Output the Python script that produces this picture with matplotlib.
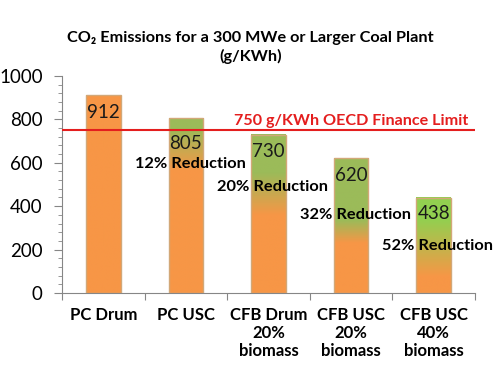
import matplotlib
matplotlib.use("Agg")
import matplotlib.pyplot as plt
import matplotlib.colors as mcolors
import numpy as np
from matplotlib.ticker import MultipleLocator

plt.rcParams['font.family'] = ['Lato', 'DejaVu Sans']

# data
categories = ['PC Drum', 'PC USC', 'CFB Drum\n20%\nbiomass', 'CFB USC\n20%\nbiomass', 'CFB USC\n40%\nbiomass']
emissions = [912, 805, 730, 620, 438]
reductions = ['', '12% Reduction', '20% Reduction', '32% Reduction', '52% Reduction']
oecd_limit = 750

# style: gradient stops (fraction of bar height) where orange ends / green starts
fade_lo = [1.01, 0.70, 0.49, 0.37, 0.17]
fade_hi = [1.02, 0.94, 0.76, 0.54, 0.77]
top_colors = ['#F79646', '#9BBB59', '#9BBB59', '#9BBB59', '#92D050']
orange = '#F79646'
label_y = [0, 594, 488, 360, 217]
value_offset = [-17, -25, -17, -17, -16]

fig = plt.figure(figsize=(5.01, 3.78), dpi=100)
ax = fig.add_axes([0.124, 0.225, 0.824, 0.574])

x = np.arange(len(categories))
width = 0.42
n = 200
for i, (xi, v) in enumerate(zip(x, emissions)):
    f = np.linspace(0, 1, n)
    t = np.clip((f - fade_lo[i]) / (fade_hi[i] - fade_lo[i]), 0, 1)
    c0 = np.array(mcolors.to_rgb(orange))
    c1 = np.array(mcolors.to_rgb(top_colors[i]))
    img = c0[None, :] * (1 - t[:, None]) + c1[None, :] * t[:, None]
    ax.imshow(img[:, None, :], extent=[xi - width / 2, xi + width / 2, 0, v],
              origin='lower', aspect='auto', zorder=2, interpolation='bilinear')
ax.bar(x, emissions, width=width, fill=False, edgecolor='#D2A878', linewidth=1, zorder=3)

for i, (xi, v) in enumerate(zip(x, emissions)):
    ax.annotate(str(v), (xi, v), xytext=(0, value_offset[i] * 0.72), textcoords='offset points',
                ha='center', va='center', fontsize=13.5, color='#1a1a1a', zorder=4)
    if reductions[i]:
        ax.text(xi + 0.05, label_y[i], reductions[i], ha='center', va='center',
                fontsize=11.8, fontweight='bold', color='black', zorder=5)

ax.axhline(oecd_limit, color='#E41E1E', linewidth=1.5, zorder=4)
ax.text(3.0, oecd_limit + 12, '750 g/KWh OECD Finance Limit', ha='center', va='bottom',
        fontsize=11.6, fontweight='bold', color='#E41E1E', zorder=5)

ax.set_xlim(-0.5, 4.5)
ax.set_ylim(0, 1000)
ax.yaxis.set_major_locator(MultipleLocator(200))
ax.yaxis.set_minor_locator(MultipleLocator(40))
ax.set_xticks(np.arange(-0.5, 4.6, 1))
ax.set_xticklabels([])
ax.set_xticks(x, minor=True)
ax.set_xticklabels(categories, minor=True, fontsize=12, fontweight='bold', linespacing=1.15)
ax.tick_params(axis='x', which='minor', length=0, pad=10)
ax.tick_params(axis='x', which='major', length=5, color='#868686')
ax.tick_params(axis='y', which='major', length=6, color='#868686', labelsize=13.5, pad=8)
ax.tick_params(axis='y', which='minor', length=3, color='#868686')
for s in ['top', 'right']:
    ax.spines[s].set_visible(False)
for s in ['left', 'bottom']:
    ax.spines[s].set_color('#868686')

fig.text(0.5, 0.874, 'CO\u2082 Emissions for a 300 MWe or Larger Coal Plant\n(g/KWh)',
         ha='center', va='center', fontsize=11.7, fontweight='bold', linespacing=1.35)

fig.savefig('out.png', dpi=100)
